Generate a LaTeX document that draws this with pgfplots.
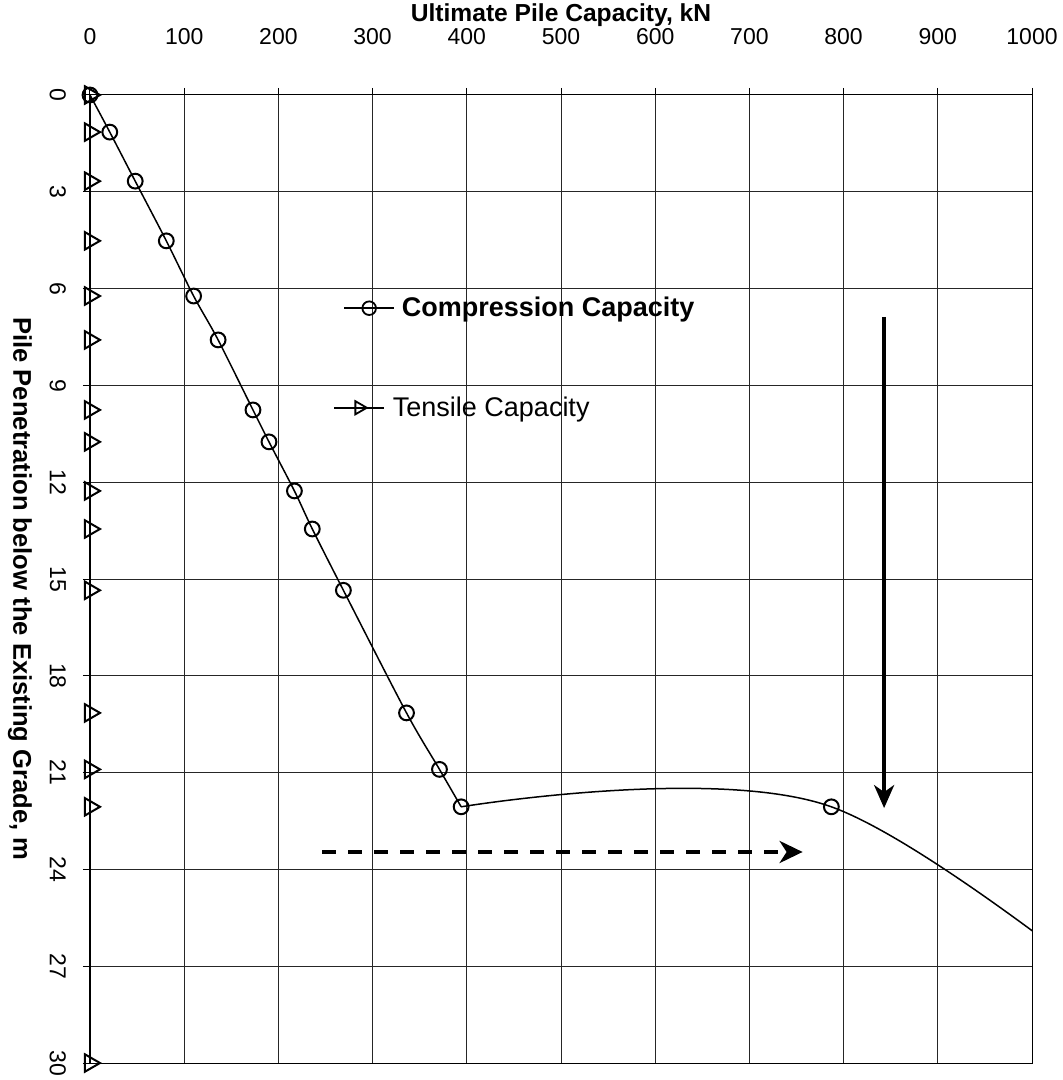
\documentclass[border=0pt]{standalone}
\usepackage{fontspec}
\setmainfont{Liberation Sans}
\usepackage{pgfplots}
\pgfplotsset{compat=1.18}
\usetikzlibrary{arrows.meta}
\begin{document}
\begin{tikzpicture}
\path[use as bounding box] (-45pt,-8.5pt) rectangle (486.5pt,531.5pt);
\begin{axis}[
  scale only axis, width=471pt, height=484pt,
  at={(0,0)}, anchor=south west,
  xmin=0, xmax=1000, ymin=0, ymax=30, y dir=reverse,
  xtick={0,100,...,1000}, ytick={0,3,...,30},
  xtick pos=upper, ytick pos=left, xticklabel pos=upper,
  tick align=outside, major tick length=3.5pt,
  tick style={black, line width=0.5pt},
  grid=major, major grid style={black!85, line width=0.5pt},
  axis line style={black, line width=0.5pt},
  /pgf/number format/assume math mode=true,
  /pgf/number format/1000 sep={},
  tick label style={font=\fontsize{11.5}{13}\selectfont},
  xticklabel style={anchor=south},
  xticklabel shift=18pt,
  yticklabel style={rotate=-90, anchor=north},
  yticklabel shift=5pt,
  xlabel={\bfseries Ultimate Pile Capacity, kN},
  xlabel style={at={(axis description cs:0.5,1)}, anchor=center, yshift=40pt, font=\fontsize{12.3}{14}\selectfont},
  ylabel={\bfseries Pile Penetration below the Existing Grade, m},
  ylabel style={at={(axis description cs:-0.0745,0.4897)}, anchor=center, rotate=180, font=\fontsize{12.8}{14}\selectfont},
  legend style={at={(axis cs:258,8.15)}, anchor=west, draw=none, fill=none, inner sep=0pt,
    row sep=36.5pt, font=\fontsize{13.5}{15}\selectfont, nodes={inner sep=1pt}},
  legend cell align=left,
]
% compression curve, first part (smooth line through the read points)
\addplot[black, line width=0.75pt, smooth, tension=0.5, forget plot] coordinates {
(0,0) (21,1.15) (48,2.67) (81,4.52) (110,6.23) (136,7.59) (173,9.76) (190,10.75)
(217,12.27) (236,13.45) (269,15.35) (336,19.15) (371,20.9) (394,22.06)
};
% compression curve, second part (continues beyond the plot edge)
\addplot[black, line width=0.75pt, smooth, tension=0.55, forget plot] coordinates {
(394,22.06) (787,22.06) (1200,30.5)
};
% compression markers
\addplot[only marks, mark=o, mark size=3.7pt, mark options={fill=white, line width=1pt}, black, forget plot] coordinates {
(0,0) (21,1.15) (48,2.67) (81,4.52) (110,6.23) (136,7.59) (173,9.76) (190,10.75)
(217,12.27) (236,13.45) (269,15.35) (336,19.15) (371,20.9) (394,22.06) (787,22.06)
};
% tensile
\addplot[black, line width=0.9pt, mark=triangle, mark size=5pt, mark options={rotate=-90, fill=white, line width=1pt}, forget plot] coordinates {
(0,0) (0,1.15) (0,2.67) (0,4.52) (0,6.23) (0,7.59) (0,9.76) (0,10.75)
(0,12.27) (0,13.45) (0,15.35) (0,19.15) (0,20.9) (0,22.06) (0,30)
};
\addlegendimage{black, line width=0.75pt, mark=o, mark size=3.4pt, mark options={fill=white, line width=0.9pt},
  legend image code/.code={\draw[mark repeat=2, mark phase=2] plot coordinates {(0pt,0pt) (12.5pt,0pt) (25pt,0pt)};}}
\addlegendentry{\hspace*{2.5pt}\bfseries Compression Capacity}
\addlegendimage{black, line width=0.75pt, mark=triangle, mark size=3.8pt, mark options={rotate=-90, fill=white, line width=0.9pt},
  legend image code/.code={\draw[mark repeat=2, mark phase=2] plot coordinates {(-5pt,0pt) (7.5pt,0pt) (20pt,0pt)};}}
\addlegendentry{\hspace*{-2pt}Tensile Capacity}
% annotation arrows
\draw[line width=2pt, dash pattern=on 7pt off 6pt, -{Stealth[length=11.5pt, width=11pt, inset=3.5pt]}] (axis cs:246.5,23.46) -- (axis cs:756.5,23.46);
\draw[line width=2pt, -{Stealth[length=11.5pt, width=10pt, inset=3.5pt]}] (axis cs:843,6.88) -- (axis cs:843,22.1);
\end{axis}
\end{tikzpicture}
\end{document}
